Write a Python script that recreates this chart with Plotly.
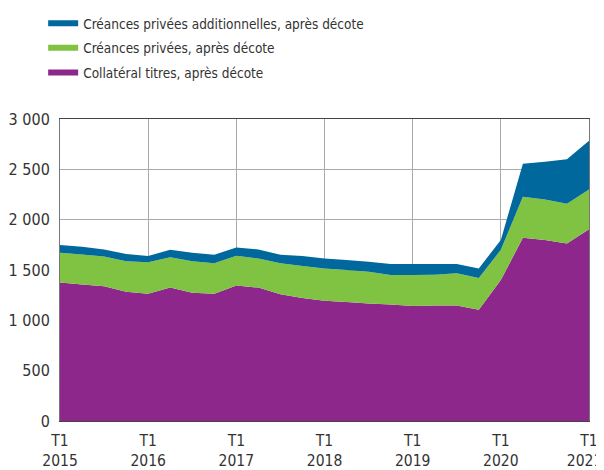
import plotly.graph_objects as go

quarters = ["T%d %d" % (q, y) for y in range(2015, 2022) for q in range(1, 5)][:25]

collateral_titres = [1375, 1355, 1338, 1285, 1265, 1325, 1275, 1265, 1347, 1325, 1258, 1222, 1195,
                     1183, 1168, 1157, 1143, 1148, 1148, 1105, 1400, 1820, 1797, 1764, 1905]
creances_privees = [297, 300, 295, 301, 311, 301, 311, 301, 295, 290, 308, 318, 321,
                    317, 315, 293, 307, 305, 319, 315, 300, 408, 403, 394, 395]
creances_add = [76, 76, 70, 72, 63, 75, 86, 86, 82, 89, 86, 100, 99,
                99, 99, 109, 109, 106, 92, 96, 97, 327, 375, 442, 484]

y_ticks = [0, 500, 1000, 1500, 2000, 2500, 3000]
y_ticktext = ["0", "500", "1 000", "1 500", "2 000", "2 500", "3 000"]
x_tick_idx = [0, 4, 8, 12, 16, 20, 24]
x_ticktext = ["T1<br>2015", "T1<br>2016", "T1<br>2017", "T1<br>2018", "T1<br>2019", "T1<br>2020",
              "T1<br>2021\u00a0\u00a0"]

FONT = "DejaVu Sans Condensed"
x = list(range(len(quarters)))

fig = go.Figure()
fig.add_trace(go.Scatter(x=x, y=collateral_titres, name="Collatéral titres, après décote",
                         stackgroup="one", mode="none", fillcolor="#8E278C", line=dict(width=0),
                         legendgroup="c", legendrank=3))
fig.add_trace(go.Scatter(x=x, y=creances_privees, name="Créances privées, après décote",
                         stackgroup="one", mode="none", fillcolor="#80C242", line=dict(width=0),
                         legendgroup="b", legendrank=2))
fig.add_trace(go.Scatter(x=x, y=creances_add, name="Créances privées additionnelles, après décote",
                         stackgroup="one", mode="none", fillcolor="#00689C", line=dict(width=0),
                         legendgroup="a", legendrank=1))

fig.update_layout(
    width=596, height=462,
    margin=dict(l=52, r=15, t=111, b=49, autoexpand=False),
    paper_bgcolor="white", plot_bgcolor="white",
    font=dict(family=FONT, size=16, color="#333333"),
    showlegend=True,
    legend=dict(x=0.059, y=1.012, xref="container", yref="container", xanchor="left", yanchor="top",
                font=dict(family=FONT, size=13.5, color="#333333"),
                traceorder="grouped", tracegroupgap=4, bgcolor="rgba(0,0,0,0)"),
    xaxis=dict(range=[0, 24], tickvals=x_tick_idx, ticktext=x_ticktext,
               showgrid=True, gridcolor="#AAAAAA", gridwidth=1,
               showline=True, linecolor="#444444", linewidth=1, mirror=True,
               ticks="", zeroline=False, tickfont=dict(size=15.5), ticklabelstandoff=5,
               ticklabeloverflow="allow"),
    yaxis=dict(range=[0, 3000], tickvals=y_ticks, ticktext=y_ticktext,
               showgrid=True, gridcolor="#AAAAAA", gridwidth=1,
               showline=True, linecolor="#777777", linewidth=1, mirror=True,
               ticks="", zeroline=False, tickfont=dict(size=16), ticklabelstandoff=6),
)
fig.update_xaxes(layer="above traces")
fig.update_yaxes(layer="above traces")

fig.write_html("out.html")
